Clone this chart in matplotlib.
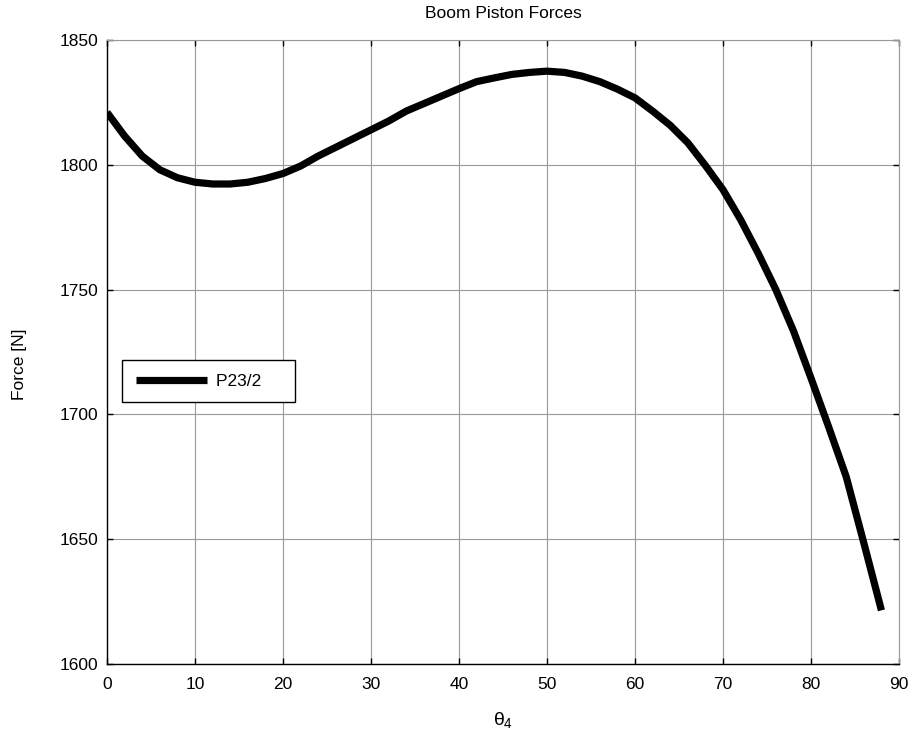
import matplotlib
matplotlib.use("Agg")
import matplotlib.pyplot as plt

plt.rcParams['font.family'] = ['Liberation Sans', 'DejaVu Sans']
plt.rcParams['mathtext.fontset'] = 'custom'
plt.rcParams['mathtext.rm'] = 'Liberation Sans'
plt.rcParams['mathtext.it'] = 'Liberation Sans'

# Boom angle theta_4 [deg] and half piston force P23/2 [N]
theta4 = [0, 2, 4, 6, 8, 10, 12, 14, 16, 18, 20, 22, 24, 26, 28, 30, 32, 34,
          36, 38, 40, 42, 44, 46, 48, 50, 52, 54, 56, 58, 60, 62, 64, 66, 68,
          70, 72, 74, 76, 78, 80, 82, 84, 86, 88]
p23_half = [1821, 1811.5, 1803.5, 1798, 1794.8, 1793, 1792.3, 1792.3, 1793,
            1794.5, 1796.5, 1799.5, 1803.5, 1807, 1810.5, 1814, 1817.5, 1821.5,
            1824.5, 1827.5, 1830.5, 1833.3, 1834.8, 1836.2, 1837, 1837.5, 1837,
            1835.5, 1833.3, 1830.3, 1826.8, 1821.5, 1815.8, 1808.8, 1799.7,
            1790, 1778, 1764.5, 1750, 1733.5, 1714.5, 1695, 1675, 1648.5, 1621.5]

x_ticks = [0, 10, 20, 30, 40, 50, 60, 70, 80, 90]
y_ticks = [1600, 1650, 1700, 1750, 1800, 1850]

fig = plt.figure(figsize=(9.17, 7.47), dpi=100)
ax = fig.add_axes([0.1167, 0.1111, 0.8637, 0.8354])

ax.plot(theta4, p23_half, color='black', linewidth=5.2,
        solid_capstyle='butt', solid_joinstyle='miter', label='P23/2    ', zorder=3)

ax.set_xlim(0, 90)
ax.set_ylim(1600, 1850)
ax.set_xticks(x_ticks)
ax.set_yticks(y_ticks)
ax.grid(True, color='#999999', linewidth=0.8, linestyle='-')
ax.set_axisbelow(True)

for side in ('left', 'bottom'):
    ax.spines[side].set_color('black')
    ax.spines[side].set_linewidth(1.0)
for side in ('top', 'right'):
    ax.spines[side].set_color('#999999')
    ax.spines[side].set_linewidth(0.8)

ax.tick_params(direction='in', length=4, width=1, labelsize=12.5,
               top=True, right=True)
ax.tick_params(axis='x', pad=9)
ax.tick_params(axis='y', pad=6)

ax.set_title('Boom Piston Forces', fontsize=12.5, pad=16)
ax.set_xlabel(r'$\theta_4$', fontsize=14, labelpad=13)
ax.set_ylabel('Force [N]', fontsize=12.5)
ax.yaxis.set_label_coords(-0.101, 0.48)

leg = ax.legend(loc='upper left', bbox_to_anchor=(0.019, 0.487),
                fontsize=12.5, handlelength=4.1, handletextpad=0.55,
                borderpad=0.78, fancybox=False, framealpha=1,
                edgecolor='black', borderaxespad=0)
leg.get_frame().set_linewidth(1.0)

fig.savefig('out.png', dpi=100)
